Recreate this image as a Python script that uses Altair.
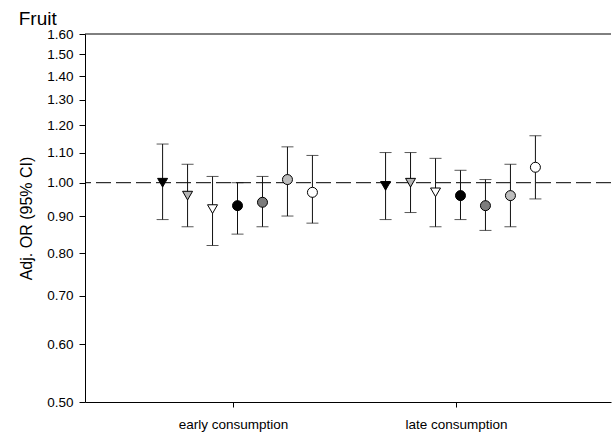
import altair as alt
import pandas as pd

# Exposure periods (x-axis groups) and the seven estimates shown per period
groups = ["early consumption", "late consumption"]
series = ["s1", "s2", "s3", "s4", "s5", "s6", "s7"]
shapes = ["triangle-down", "triangle-down", "triangle-down",
          "circle", "circle", "circle", "circle"]
fills = ["#000000", "#b4b4b4", "#ffffff", "#000000", "#7c7c7c", "#bdbdbd", "#ffffff"]

# Adjusted odds ratios with 95% confidence limits
early_or = [1.00, 0.96, 0.92, 0.93, 0.94, 1.01, 0.97]
early_lo = [0.89, 0.87, 0.82, 0.85, 0.87, 0.90, 0.88]
early_hi = [1.13, 1.06, 1.02, 1.00, 1.02, 1.12, 1.09]
late_or = [0.99, 1.00, 0.97, 0.96, 0.93, 0.96, 1.05]
late_lo = [0.89, 0.91, 0.87, 0.89, 0.86, 0.87, 0.95]
late_hi = [1.10, 1.10, 1.08, 1.04, 1.01, 1.06, 1.16]

y_ticks = [0.5, 0.6, 0.7, 0.8, 0.9, 1.0, 1.1, 1.2, 1.3, 1.4, 1.5, 1.6]

# spacing of the estimates within a group (x units)
STEP = 0.112
SHIFT = 0.02

PLOT_W = 526
PLOT_H = 368

rows = []
for g, (ors, los, his) in enumerate([(early_or, early_lo, early_hi),
                                     (late_or, late_lo, late_hi)]):
    for i, s in enumerate(series):
        rows.append({
            "group": groups[g],
            "series": s,
            "x": g + 1 + (i - 3) * STEP + SHIFT,
            "or": ors[i],
            "lo": los[i],
            "hi": his[i],
        })
df = pd.DataFrame(rows)

FONT = "Liberation Sans"
YTITLE = "Adj. OR (95% CI)"

x_enc = alt.X(
    "x:Q",
    scale=alt.Scale(domain=[0.336, 2.695], nice=False, zero=False),
    axis=alt.Axis(
        values=[1, 2],
        labelExpr="datum.value == 1 ? 'early consumption' : 'late consumption'",
        title=None, grid=False, tickSize=5, labelPadding=10,
        labelFontSize=13.5, labelFont=FONT, labelColor="black",
        domainColor="black", tickColor="black",
    ),
)

y_scale = alt.Scale(type="log", domain=[0.5, 1.6], nice=False, zero=False)
y_axis = alt.Axis(
    values=y_ticks, format=".2f", grid=False, tickSize=6, labelPadding=6,
    labelFontSize=13.5, labelFont=FONT, labelColor="black",
    titleFont=FONT, titleFontSize=16, titleFontWeight="normal",
    titleColor="black", titlePadding=12,
    domainColor="black", tickColor="black",
)


def y_field(name):
    return alt.Y(f"{name}:Q", scale=y_scale, axis=y_axis, title=YTITLE)


base = alt.Chart(df)

# reference line at OR = 1
ref_df = pd.DataFrame({"or": [1.0]})
ref_line = alt.Chart(ref_df).mark_rule(
    color="black", strokeWidth=1, strokeDash=[15, 5]
).encode(y=y_field("or"))

# top frame line
top_line = alt.Chart(ref_df).mark_rule(color="black", strokeWidth=1).encode(
    x=alt.value(0), x2=alt.value(PLOT_W), y=alt.value(0)
)

whisker = base.mark_rule(color="#111111", strokeWidth=1).encode(
    x=x_enc, y=y_field("lo"), y2="hi:Q"
)
cap_lo = base.mark_tick(orient="horizontal", size=12, thickness=1,
                        color="#111111").encode(x=x_enc, y=y_field("lo"))
cap_hi = base.mark_tick(orient="horizontal", size=12, thickness=1,
                        color="#111111").encode(x=x_enc, y=y_field("hi"))

points = base.mark_point(
    filled=True, size=100, stroke="black", strokeWidth=1,
    opacity=1, fillOpacity=1,
).encode(
    x=x_enc,
    y=y_field("or"),
    fill=alt.Fill("series:N", scale=alt.Scale(domain=series, range=fills), legend=None),
    shape=alt.Shape("series:N", scale=alt.Scale(domain=series, range=shapes), legend=None),
)

chart = alt.layer(ref_line, top_line, whisker, cap_lo, cap_hi, points).properties(
    width=PLOT_W,
    height=PLOT_H,
    title=alt.TitleParams(
        "Fruit", anchor="start", fontSize=19, fontWeight="normal",
        font=FONT, color="black", offset=-2,
    ),
    autosize=alt.AutoSizeParams(type="none"),
    padding={"left": 85, "top": 34, "right": 1, "bottom": 37},
    view=alt.ViewBackground(stroke="transparent", strokeWidth=0),
).configure(
    background="white"
)

chart.save("out.html", embed_options={"renderer": "svg", "actions": False})
